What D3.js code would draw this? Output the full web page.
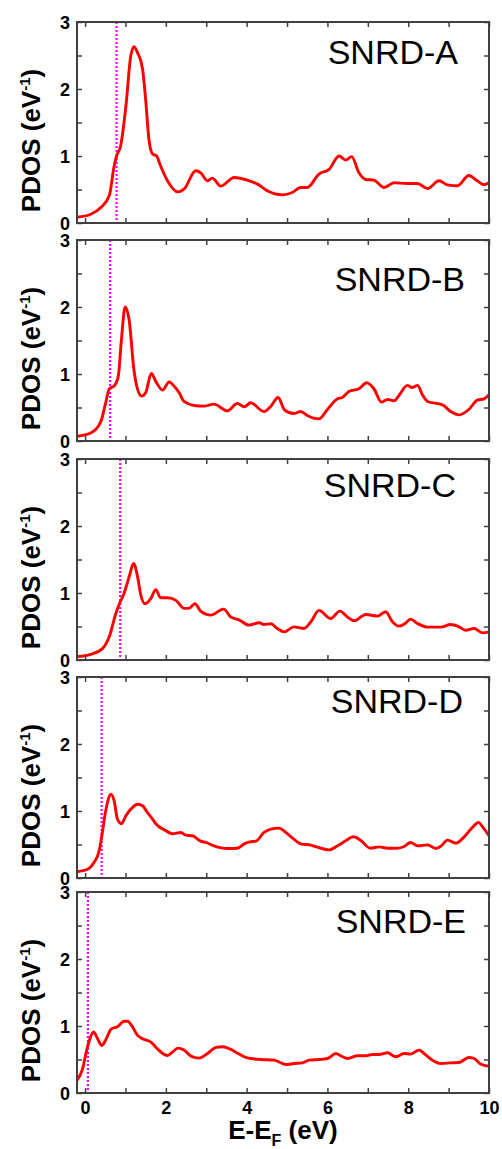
<!DOCTYPE html>
<html>
<head>
<meta charset="utf-8">
<script src="https://cdn.jsdelivr.net/npm/d3@7"></script>
<style>
    body { margin: 0; background: #fff; }
    svg { display: block; font-family: Arial, "Liberation Sans", sans-serif; }
</style>
</head>
<body>
<div id="chart"></div>
<script>
// panel names and Fermi marker positions (eV)
const names = ["SNRD-A", "SNRD-B", "SNRD-C", "SNRD-D", "SNRD-E"];
const fermi = [0.78, 0.62, 0.87, 0.41, 0.07];

const xTicks = [0, 2, 4, 6, 8, 10];
const yTicks = [0, 1, 2, 3];

const energyA = [-0.2, 0.14, 0.39, 0.6, 0.72, 0.78, 0.88, 1.01, 1.13, 1.21, 1.30, 1.42, 1.50, 1.58, 1.67, 1.77, 1.87, 2.04, 2.29, 2.45, 2.74, 2.86, 3.03, 3.15, 3.36, 3.69, 4.06, 4.27, 4.51, 4.89, 5.13, 5.34, 5.50, 5.79, 6.04, 6.29, 6.45, 6.60, 6.78, 6.95, 7.15, 7.40, 7.65, 7.98, 8.23, 8.48, 8.76, 8.97, 9.22, 9.50, 9.71, 9.88, 10];
const pdosA = [0.085, 0.13, 0.23, 0.41, 0.85, 1.0, 1.15, 1.74, 2.49, 2.63, 2.54, 2.31, 1.84, 1.25, 1.03, 1.0, 0.85, 0.63, 0.465, 0.505, 0.78, 0.75, 0.63, 0.67, 0.55, 0.68, 0.63, 0.58, 0.48, 0.42, 0.455, 0.53, 0.53, 0.73, 0.80, 1.00, 0.94, 0.99, 0.75, 0.65, 0.64, 0.53, 0.60, 0.59, 0.59, 0.515, 0.63, 0.57, 0.555, 0.71, 0.63, 0.57, 0.60];

const energyB = [-0.2, 0.14, 0.39, 0.51, 0.60, 0.72, 0.82, 0.90, 0.99, 1.09, 1.21, 1.30, 1.40, 1.50, 1.64, 1.75, 1.92, 2.08, 2.20, 2.33, 2.45, 2.70, 2.95, 3.19, 3.52, 3.77, 3.94, 4.10, 4.43, 4.60, 4.78, 4.93, 5.17, 5.34, 5.50, 5.79, 6.0, 6.25, 6.37, 6.53, 6.78, 6.97, 7.15, 7.34, 7.49, 7.65, 7.77, 7.98, 8.10, 8.23, 8.35, 8.48, 8.85, 9.05, 9.26, 9.50, 9.71, 9.88, 10];
const pdosB = [0.07, 0.12, 0.29, 0.57, 0.78, 0.82, 0.96, 1.51, 2.00, 1.81, 1.06, 0.77, 0.67, 0.72, 1.01, 0.89, 0.76, 0.88, 0.82, 0.72, 0.59, 0.53, 0.52, 0.55, 0.45, 0.56, 0.51, 0.57, 0.44, 0.52, 0.65, 0.47, 0.41, 0.44, 0.38, 0.33, 0.47, 0.63, 0.65, 0.74, 0.78, 0.87, 0.78, 0.58, 0.62, 0.60, 0.68, 0.83, 0.80, 0.83, 0.69, 0.59, 0.54, 0.44, 0.39, 0.47, 0.61, 0.63, 0.69];

const energyC = [-0.2, 0.14, 0.43, 0.60, 0.76, 0.87, 0.95, 1.09, 1.20, 1.30, 1.38, 1.48, 1.63, 1.75, 1.87, 2.04, 2.25, 2.45, 2.57, 2.72, 2.86, 3.11, 3.43, 3.61, 3.81, 4.06, 4.31, 4.43, 4.60, 4.76, 4.93, 5.17, 5.42, 5.59, 5.79, 6.08, 6.31, 6.50, 6.66, 6.95, 7.24, 7.44, 7.61, 7.77, 7.91, 8.06, 8.23, 8.48, 8.80, 9.05, 9.26, 9.42, 9.63, 9.84, 10];
const pdosC = [0.05, 0.085, 0.17, 0.35, 0.69, 0.87, 0.97, 1.24, 1.44, 1.24, 0.97, 0.84, 0.92, 1.05, 0.93, 0.93, 0.89, 0.77, 0.77, 0.84, 0.73, 0.67, 0.76, 0.64, 0.60, 0.52, 0.555, 0.53, 0.54, 0.47, 0.42, 0.495, 0.47, 0.57, 0.74, 0.62, 0.73, 0.64, 0.585, 0.68, 0.655, 0.72, 0.57, 0.505, 0.54, 0.61, 0.545, 0.49, 0.49, 0.53, 0.495, 0.445, 0.47, 0.405, 0.42];

const energyD = [-0.2, 0.06, 0.22, 0.35, 0.41, 0.51, 0.64, 0.72, 0.80, 0.90, 1.01, 1.17, 1.30, 1.42, 1.54, 1.67, 1.75, 1.96, 2.16, 2.37, 2.49, 2.66, 2.86, 2.99, 3.19, 3.52, 3.77, 3.94, 4.08, 4.23, 4.43, 4.60, 4.80, 4.97, 5.13, 5.34, 5.59, 5.75, 6.04, 6.25, 6.45, 6.64, 6.82, 7.06, 7.28, 7.49, 7.73, 7.90, 8.06, 8.23, 8.48, 8.68, 8.82, 8.97, 9.18, 9.38, 9.59, 9.74, 9.85, 10];
const pdosD = [0.094, 0.13, 0.23, 0.41, 0.61, 1.0, 1.25, 1.15, 0.88, 0.81, 0.93, 1.05, 1.10, 1.08, 0.98, 0.88, 0.81, 0.72, 0.66, 0.68, 0.64, 0.63, 0.55, 0.53, 0.48, 0.44, 0.445, 0.51, 0.54, 0.55, 0.68, 0.73, 0.745, 0.68, 0.60, 0.51, 0.49, 0.46, 0.42, 0.48, 0.555, 0.615, 0.565, 0.445, 0.465, 0.445, 0.445, 0.47, 0.53, 0.48, 0.495, 0.44, 0.48, 0.565, 0.52, 0.61, 0.755, 0.83, 0.755, 0.63];

const energyE = [-0.2, -0.06, 0.04, 0.12, 0.21, 0.31, 0.41, 0.51, 0.64, 0.80, 0.97, 1.05, 1.17, 1.30, 1.42, 1.63, 1.79, 1.92, 2.04, 2.16, 2.30, 2.45, 2.62, 2.82, 3.03, 3.24, 3.40, 3.61, 3.79, 3.98, 4.10, 4.35, 4.68, 4.97, 5.17, 5.38, 5.55, 5.79, 6.0, 6.21, 6.33, 6.50, 6.74, 6.95, 7.11, 7.28, 7.49, 7.69, 7.90, 8.05, 8.27, 8.39, 8.60, 8.80, 9.05, 9.26, 9.50, 9.63, 9.80, 10];
const pdosE = [0.19, 0.365, 0.64, 0.81, 0.91, 0.81, 0.71, 0.79, 0.95, 0.99, 1.07, 1.07, 0.99, 0.86, 0.81, 0.76, 0.66, 0.59, 0.56, 0.61, 0.67, 0.64, 0.55, 0.52, 0.59, 0.68, 0.69, 0.65, 0.59, 0.53, 0.515, 0.50, 0.49, 0.425, 0.44, 0.45, 0.49, 0.50, 0.515, 0.59, 0.555, 0.515, 0.555, 0.555, 0.575, 0.575, 0.60, 0.54, 0.59, 0.58, 0.64, 0.59, 0.49, 0.44, 0.45, 0.455, 0.53, 0.515, 0.43, 0.40];

const energies = [energyA, energyB, energyC, energyD, energyE];
const pdos = [pdosA, pdosB, pdosC, pdosD, pdosE];

// layout
const WIDTH = 502, HEIGHT = 1149;
const left = 77, right = 489;
const panelTop = [22, 240, 459, 677, 892];
const panelH = 201;
// label anchor (right edge, baseline offset from panel top)
const labelPos = [[458, 42], [465, 51], [456, 38], [463, 36], [466, 41]];

const svg = d3.select("#chart").append("svg")
    .attr("width", WIDTH)
    .attr("height", HEIGHT);

svg.append("rect").attr("width", WIDTH).attr("height", HEIGHT).attr("fill", "#fff");

const x = d3.scaleLinear().domain([-0.2, 10]).range([left, right]);

const frameColor = "#404040";

names.forEach(function(name, i) {

    const top = panelTop[i], bottom = top + panelH;
    const y = d3.scaleLinear().domain([0, 3]).range([bottom, top]);
    const g = svg.append("g").attr("class", "panel");

    g.append("clipPath").attr("id", "clip" + i)
        .append("rect")
        .attr("x", left).attr("y", top)
        .attr("width", right - left).attr("height", panelH);

    // fermi marker
    g.append("line")
        .attr("x1", x(fermi[i])).attr("x2", x(fermi[i]))
        .attr("y1", top).attr("y2", bottom)
        .attr("stroke", "#ff00ff")
        .attr("stroke-width", 2.2)
        .attr("stroke-dasharray", "2,2");

    const pts = energies[i].map((e, k) => [e, pdos[i][k]]);
    const line = d3.line()
        .x(d => x(d[0]))
        .y(d => y(d[1]))
        .curve(d3.curveMonotoneX);

    g.append("path")
        .datum(pts)
        .attr("clip-path", "url(#clip" + i + ")")
        .attr("fill", "none")
        .attr("stroke", "#ff0000")
        .attr("stroke-width", 2.9)
        .attr("stroke-linejoin", "round")
        .attr("d", line);

    // axes, ticks pointing inward on all four sides
    const isLast = i === names.length - 1;
    const xBottom = d3.axisBottom(x).tickValues(d3.range(0, 11, 1))
        .tickSizeInner(-5).tickSizeOuter(0)
        .tickFormat(d => (isLast && xTicks.includes(d)) ? d : "");
    const xTop = d3.axisTop(x).tickValues(d3.range(0, 11, 1))
        .tickSizeInner(-5).tickSizeOuter(0).tickFormat("");
    const yLeft = d3.axisLeft(y).tickValues(d3.range(0, 3.01, 0.5))
        .tickSizeInner(-5).tickSizeOuter(0)
        .tickFormat(d => yTicks.includes(d) ? d : "");
    const yRight = d3.axisRight(y).tickValues(d3.range(0, 3.01, 0.5))
        .tickSizeInner(-5).tickSizeOuter(0).tickFormat("");

    const axes = [
        [xBottom, "translate(0," + bottom + ")"],
        [xTop, "translate(0," + top + ")"],
        [yLeft, "translate(" + left + ",0)"],
        [yRight, "translate(" + right + ",0)"]
    ];
    axes.forEach(function(a) {
        const ag = g.append("g").attr("transform", a[1]).call(a[0]);
        ag.select(".domain").remove();
        ag.selectAll("line").attr("stroke", frameColor).attr("stroke-width", 1.5);
        ag.selectAll("text")
            .attr("fill", "#000")
            .style("font-size", "18px")
            .style("font-weight", "bold")
            .style("font-family", "Arial, 'Liberation Sans', sans-serif");
    });
    g.selectAll(".tick text").filter(function() { return this.parentNode.parentNode.getAttribute("transform").startsWith("translate(" + left); })
        .attr("x", -7).attr("dy", "0.36em");
    if (isLast) {
        g.selectAll("g").filter(function() { return this.getAttribute("transform") === "translate(0," + bottom + ")"; })
            .selectAll(".tick text").attr("y", 8).attr("dy", "0.71em");
    }

    // frame
    g.append("rect")
        .attr("x", left).attr("y", top)
        .attr("width", right - left).attr("height", panelH)
        .attr("fill", "none")
        .attr("stroke", frameColor)
        .attr("stroke-width", 2);

    g.append("text")
        .attr("x", labelPos[i][0])
        .attr("y", top + labelPos[i][1])
        .attr("text-anchor", "end")
        .style("font-size", "34px")
        .text(name);

    // y label
    const yl = g.append("text")
        .attr("transform", "translate(40," + (top + panelH / 2 + 18) + ") rotate(-90)")
        .attr("text-anchor", "middle")
        .style("font-size", "26px")
        .style("font-weight", "bold");
    yl.append("tspan").text("PDOS (eV");
    yl.append("tspan").attr("dy", -10).style("font-size", "15px").text("-1");
    yl.append("tspan").attr("dy", 10).text(")");
});

// x label
const xl = svg.append("text")
    .attr("x", (left + right) / 2)
    .attr("y", 1139)
    .attr("text-anchor", "middle")
    .style("font-size", "26px")
    .style("font-weight", "bold");
xl.append("tspan").text("E-E");
xl.append("tspan").attr("dy", 7).style("font-size", "16px").text("F");
xl.append("tspan").attr("dy", -7).text(" (eV)");
</script>
</body>
</html>
